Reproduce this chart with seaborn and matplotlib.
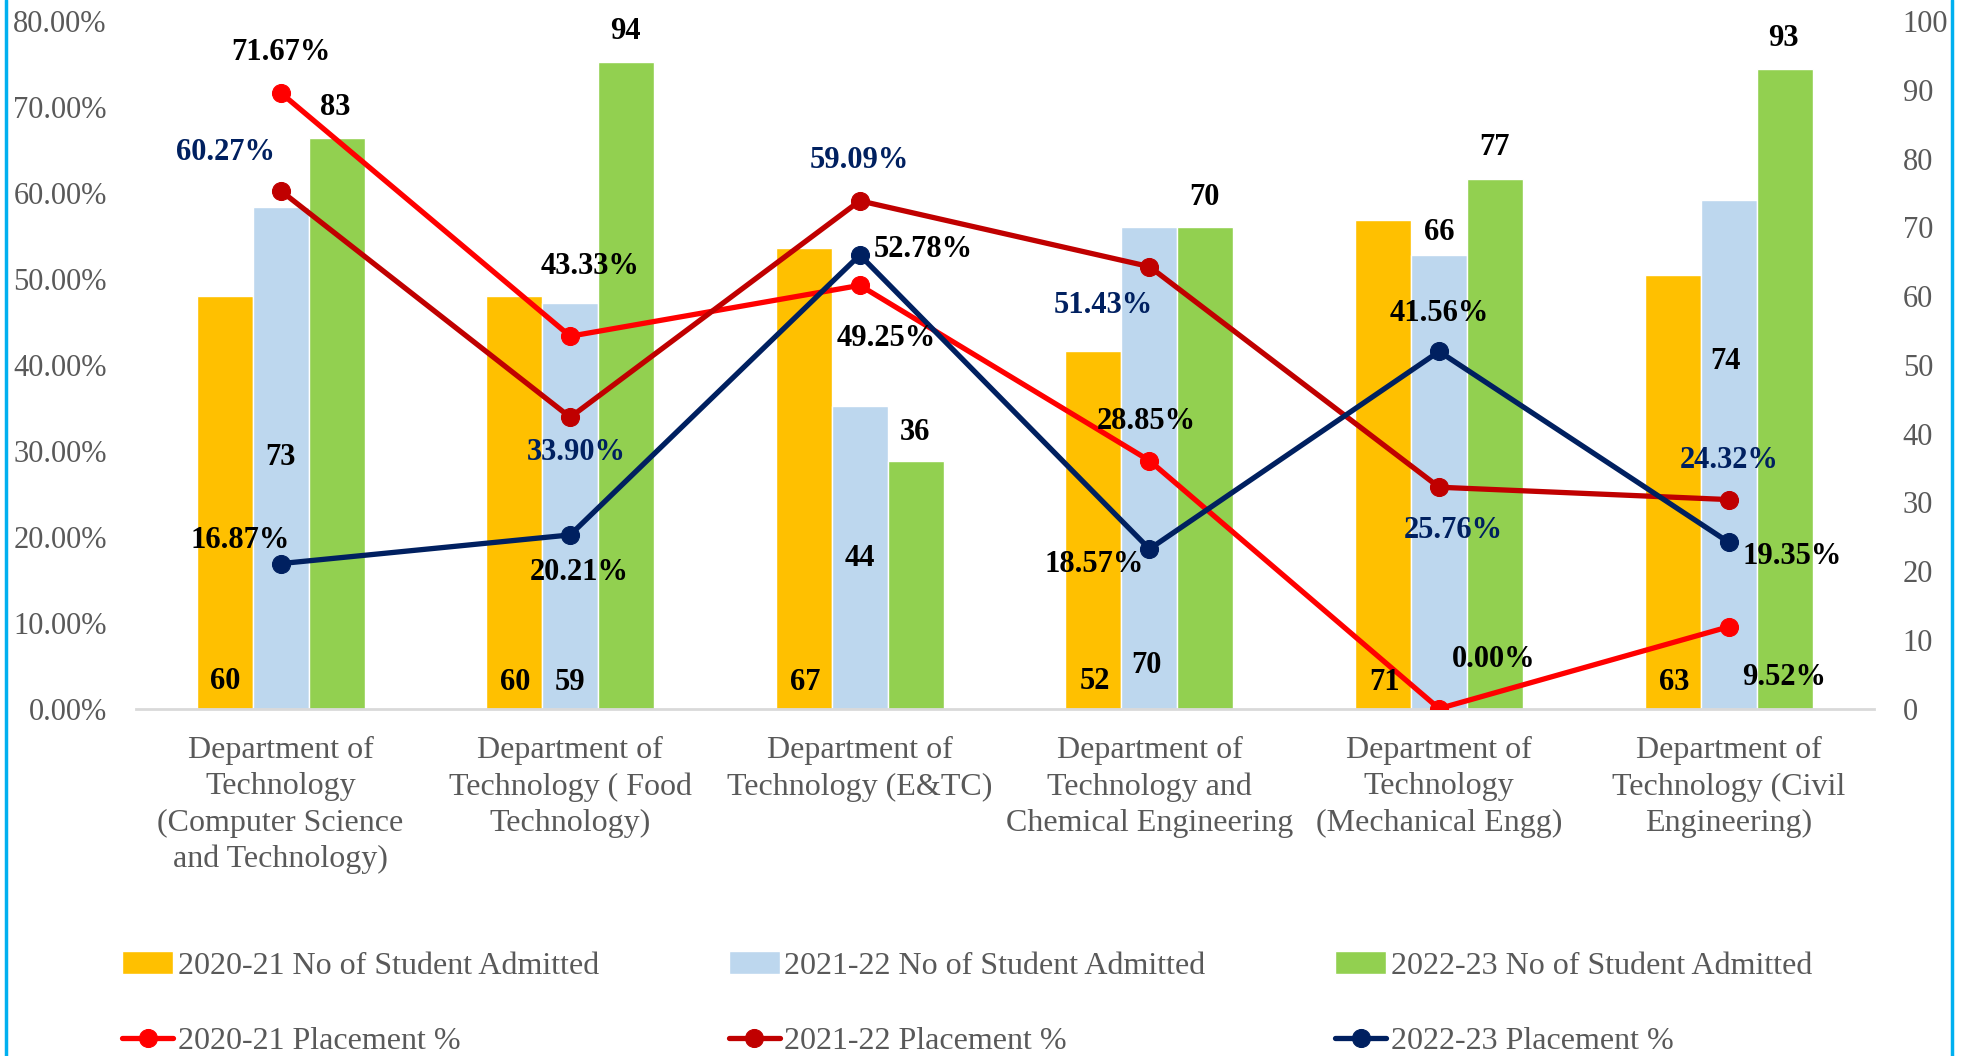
import numpy as np
import pandas as pd
import matplotlib.pyplot as plt
import seaborn as sns

depts = ["Department of\nTechnology\n(Computer Science\nand Technology)",
         "Department of\nTechnology ( Food\nTechnology)",
         "Department of\nTechnology (E&TC)",
         "Department of\nTechnology and\nChemical Engineering",
         "Department of\nTechnology\n(Mechanical Engg)",
         "Department of\nTechnology (Civil\nEngineering)"]

adm_2021 = [60, 60, 67, 52, 71, 63]
adm_2122 = [73, 59, 44, 70, 66, 74]
adm_2223 = [83, 94, 36, 70, 77, 93]

plc_2021 = [71.67, 43.33, 49.25, 28.85, 0.00, 9.52]
plc_2122 = [60.27, 33.90, 59.09, 51.43, 25.76, 24.32]
plc_2223 = [16.87, 20.21, 52.78, 18.57, 41.56, 19.35]

bar_names = ["2020-21 No of Student Admitted", "2021-22 No of Student Admitted",
             "2022-23 No of Student Admitted"]
line_names = ["2020-21 Placement %", "2021-22 Placement %", "2022-23 Placement %"]

bar_cols = ["#FFC000", "#BDD7EE", "#92D050"]
line_cols = ["#FF0000", "#C00000", "#002060"]
txt_cols = ["black", "#002060", "black"]

sns.set_style("white")
plt.rcParams['font.family'] = ['Liberation Serif', 'DejaVu Serif']
FS = 22
GRAY = "#595959"

df = pd.DataFrame({"dept": depts * 3,
                   "count": adm_2021 + adm_2122 + adm_2223,
                   "year": [bar_names[0]] * 6 + [bar_names[1]] * 6 + [bar_names[2]] * 6})

fig = plt.figure(figsize=(19.68, 10.56), dpi=100)
ax = fig.add_subplot(111)
fig.subplots_adjust(left=0.069, right=0.952, bottom=0.329, top=0.980)

sns.barplot(data=df, x="dept", y="count", hue="year", palette=bar_cols,
            width=0.58, saturation=1, ax=ax)
bar_h, bar_l = ax.get_legend_handles_labels()
ax.get_legend().remove()
ax.set_ylim(0, 100)
ax.set_xlim(-0.5, 5.5)
ax.set_yticks(range(0, 101, 10))
ax.set_xlabel("")
ax.set_ylabel("")

ax2 = ax.twinx()
x = np.arange(6)
for vals, name, c in zip([plc_2021, plc_2122, plc_2223], line_names, line_cols):
    sns.lineplot(x=x, y=vals, color=c, marker="o", markersize=13, linewidth=3.8,
                 markeredgecolor=c, label=name, ax=ax2)
line_h, line_l = ax2.get_legend_handles_labels()
ax2.get_legend().remove()
ax2.set_ylim(0, 80)
ax2.set_yticks(range(0, 81, 10))
ax2.set_yticklabels([f"{v:.2f}%" for v in range(0, 81, 10)])
ax2.yaxis.tick_left()
ax.yaxis.tick_right()

for a in (ax, ax2):
    for s in ["top", "left", "right"]:
        a.spines[s].set_visible(False)
    a.spines["bottom"].set_color("#D9D9D9")
    a.spines["bottom"].set_linewidth(2)
    a.tick_params(length=0, labelsize=FS, labelcolor=GRAY)
ax2.spines["bottom"].set_visible(False)
ax.tick_params(axis="y", pad=21)
ax2.tick_params(axis="y", pad=21)
ax.tick_params(axis="x", pad=20, labelsize=23)
for t in ax.get_xticklabels():
    t.set_linespacing(1.32)
    t.set_verticalalignment("top")

# bar value labels (dx from category centre, y in count units)
bar_lab_pos = [
    [(-0.19, 4.0), (-0.19, 3.8), (-0.19, 3.8), (-0.19, 4.0), (-0.19, 3.8), (-0.19, 3.8)],
    [(0.0, 36.5), (0.0, 3.8), (0.0, 21.9), (-0.01, 6.2), (0.0, 69.3), (-0.01, 50.5)],
    [(0.19, 87.4), (0.19, 98.5), (0.19, 40.1), (0.19, 74.4), (0.19, 81.6), (0.19, 97.4)],
]
for vals, pos in zip([adm_2021, adm_2122, adm_2223], bar_lab_pos):
    for i, (v, (dx, yy)) in enumerate(zip(vals, pos)):
        ax2.text(i + dx, yy, str(v), transform=ax.transData, ha="center", va="center",
                 fontsize=FS, fontweight="bold", color="black", zorder=10)

# placement labels (dx from category centre, y in % units)
plc_lab_pos = [
    [(0.0, 76.4), (0.07, 51.4), (0.09, 43.1), (-0.01, 33.4), (0.19, 5.7), (0.19, 3.6)],
    [(-0.19, 64.7), (0.02, 29.8), (0.0, 63.8), (-0.16, 46.9), (0.05, 20.7), (0.0, 28.9)],
    [(-0.14, 19.6), (0.03, 15.8), (0.22, 53.4), (-0.19, 16.8), (0.0, 46.0), (0.22, 17.7)],
]
for vals, pos, tc in zip([plc_2021, plc_2122, plc_2223], plc_lab_pos, txt_cols):
    for i, (v, (dx, yy)) in enumerate(zip(vals, pos)):
        ax2.text(i + dx, yy, f"{v:.2f}%", ha="center", va="center",
                 fontsize=FS, fontweight="bold", color=tc, zorder=10)

handles, labels = [], []
for k in range(3):
    handles += [bar_h[k], line_h[k]]
    labels += [bar_l[k], line_l[k]]
fig.legend(handles, labels, ncol=3, loc="upper left", bbox_to_anchor=(0.062, 0.099),
           frameon=False, fontsize=23, handlelength=1.6, handletextpad=0.15,
           columnspacing=4.05, labelspacing=1.45, borderpad=0, borderaxespad=0,
           labelcolor=GRAY)

# side borders
fig.add_artist(plt.Line2D([0.003, 0.003], [0, 1], color="#00B0F0", linewidth=2.5,
                          transform=fig.transFigure))
fig.add_artist(plt.Line2D([0.992, 0.992], [0, 1], color="#00B0F0", linewidth=2.5,
                          transform=fig.transFigure))

fig.savefig("out.png", dpi=100, facecolor="white")
